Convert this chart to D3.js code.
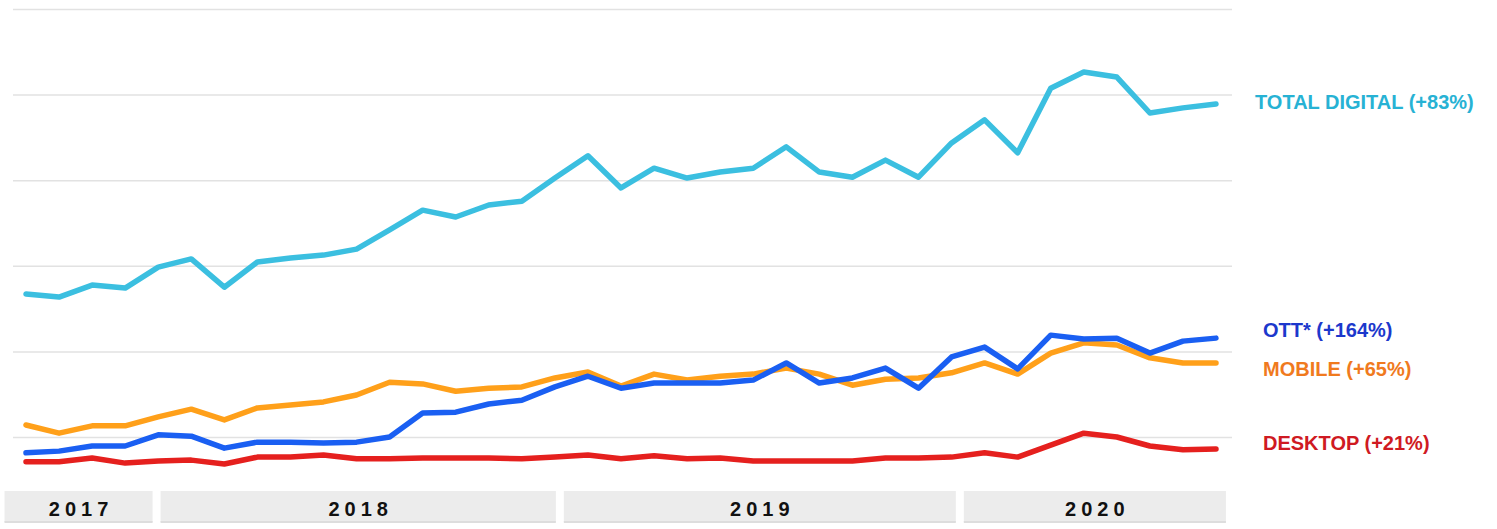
<!DOCTYPE html>
<html>
<head>
<meta charset="utf-8">
<script src="https://cdn.jsdelivr.net/npm/d3@7"></script>
<style>
  body { margin: 0; background: #fff; }
  text { font-family: "Liberation Sans", Arial, sans-serif; }
</style>
</head>
<body>
<div id="chart"></div>
<script>
// monthly points, Sep 2017 .. Sep 2020
var totalDigital = [53.4, 52.7, 55.5, 54.8, 59.7, 61.6, 55.0, 60.9, 61.8, 62.5, 63.9, 68.4, 73.0, 71.4, 74.2, 75.1, 80.5, 85.7,
  78.2, 82.8, 80.5, 81.9, 82.8, 87.8, 81.9, 80.7, 84.7, 80.7, 88.7, 94.1, 86.4, 101.5, 105.3, 104.1, 95.7, 96.9, 97.8];
var ott = [16.3, 16.7, 17.9, 17.9, 20.5, 20.2, 17.4, 18.8, 18.8, 18.6, 18.8, 20.0, 25.6, 25.8, 27.7, 28.6, 31.7, 34.2,
  31.4, 32.6, 32.6, 32.6, 33.3, 37.3, 32.6, 33.8, 36.1, 31.4, 38.7, 41.0, 35.9, 43.8, 42.9, 43.1, 39.6, 42.4, 43.1];
var mobile = [22.8, 20.9, 22.6, 22.6, 24.7, 26.5, 24.0, 26.8, 27.5, 28.2, 29.8, 32.8, 32.4, 30.7, 31.4, 31.7, 33.8, 35.2,
  31.9, 34.7, 33.3, 34.2, 34.7, 36.1, 34.7, 32.1, 33.5, 33.8, 35.0, 37.3, 34.7, 39.6, 42.0, 41.5, 38.5, 37.3, 37.3];
var desktop = [14.2, 14.2, 15.1, 13.9, 14.4, 14.6, 13.7, 15.3, 15.3, 15.8, 14.9, 14.9, 15.1, 15.1, 15.1, 14.9, 15.3, 15.8,
  14.9, 15.6, 14.9, 15.1, 14.4, 14.4, 14.4, 14.4, 15.1, 15.1, 15.3, 16.3, 15.3, 18.1, 20.9, 20.0, 17.9, 17.0, 17.2];

var seriesNames = ["TOTAL DIGITAL (+83%)", "DESKTOP (+21%)", "MOBILE (+65%)", "OTT* (+164%)"];
var years = ["2017", "2018", "2019", "2020"];
// year boundaries, in month index units
var yearEdges = [-0.65, 3.95, 16.15, 28.25, 36.3];
var gridValues = [20, 40, 60, 80, 100, 120];

var w = 1497, h = 529;

var svg = d3.select("#chart")
  .append("svg")
  .attr("width", w)
  .attr("height", h);

var x = d3.scaleLinear().domain([0, totalDigital.length - 1]).range([26, 1216]);
var y = d3.scaleLinear().domain([0, 120]).range([522.6, 9]);

// gridlines
svg.append("g")
  .attr("transform", "translate(13,0)")
  .call(d3.axisLeft(y).tickValues(gridValues).tickSize(-1219).tickFormat(""))
  .call(function(g) {
    g.select(".domain").remove();
    g.selectAll(".tick line").attr("stroke", "#e2e2e2").attr("stroke-width", 1.5);
  });

// year bands
function bandX0(i) { return x(yearEdges[i]) + (i > 0 ? 4 : 0); }
function bandX1(i) { return x(yearEdges[i + 1]) - (i < years.length - 1 ? 4 : 0); }

var bands = svg.selectAll(".year")
  .data(years)
  .enter()
  .append("g")
  .attr("class", "year");

bands.append("rect")
  .attr("x", function(d, i) { return bandX0(i); })
  .attr("y", 491)
  .attr("width", function(d, i) { return bandX1(i) - bandX0(i); })
  .attr("height", 31)
  .attr("fill", "#ececec");

bands.append("rect")
  .attr("x", function(d, i) { return bandX0(i); })
  .attr("y", 521)
  .attr("width", function(d, i) { return bandX1(i) - bandX0(i); })
  .attr("height", 2)
  .attr("fill", "#dddddd");

bands.append("text")
  .attr("x", function(d, i) { return (bandX0(i) + bandX1(i)) / 2 + 2.5; })
  .attr("y", 516)
  .attr("text-anchor", "middle")
  .attr("font-size", "20px")
  .attr("font-weight", "bold")
  .attr("letter-spacing", "5px")
  .attr("fill", "#111")
  .text(function(d) { return d; });

// lines
var series = [
  { name: seriesNames[0], values: totalDigital, line: "#3bbfe0", label: "#27b2d4", lx: 1255, dy: -2 },
  { name: seriesNames[1], values: desktop, line: "#e5201e", label: "#cf1a22", lx: 1263, dy: -6 },
  { name: seriesNames[2], values: mobile, line: "#ffa01a", label: "#f07a1e", lx: 1263, dy: 6 },
  { name: seriesNames[3], values: ott, line: "#1a5ff2", label: "#1c38cc", lx: 1263, dy: -8 }
];

var line = d3.line()
  .x(function(d, i) { return x(i); })
  .y(function(d) { return y(d); });

svg.selectAll(".series")
  .data(series)
  .enter()
  .append("path")
  .attr("class", "series")
  .attr("d", function(d) { return line(d.values); })
  .attr("fill", "none")
  .attr("stroke", function(d) { return d.line; })
  .attr("stroke-width", 5.5)
  .attr("stroke-linejoin", "round")
  .attr("stroke-linecap", "round");

// labels
svg.selectAll(".label")
  .data(series)
  .enter()
  .append("text")
  .attr("class", "label")
  .attr("x", function(d) { return d.lx; })
  .attr("y", function(d) { return y(d.values[d.values.length - 1]) + d.dy; })
  .attr("dy", "0.35em")
  .attr("font-size", "20px")
  .attr("font-weight", "bold")
  .attr("fill", function(d) { return d.label; })
  .text(function(d) { return d.name; });
</script>
</body>
</html>
